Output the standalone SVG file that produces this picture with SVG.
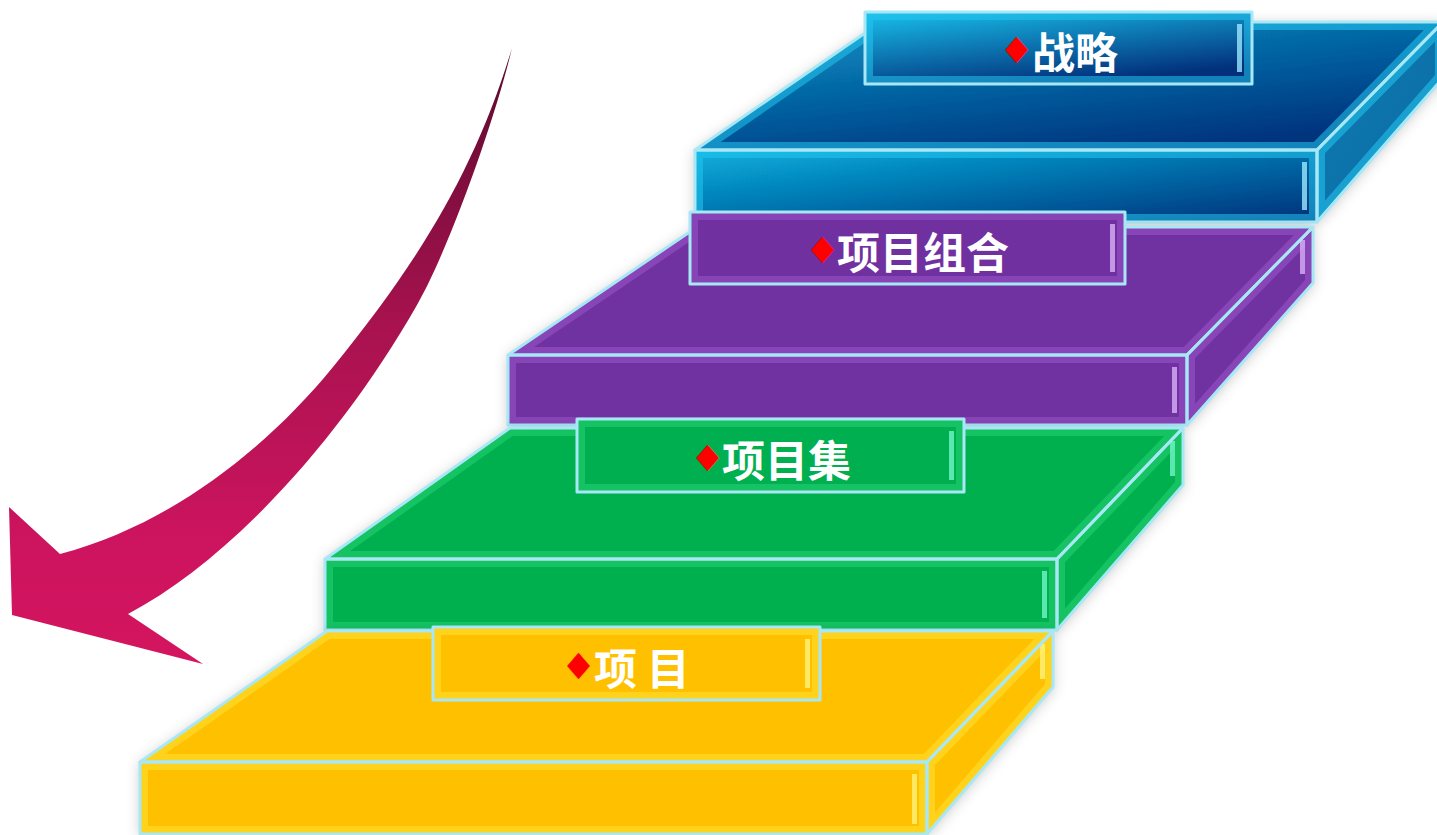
<svg xmlns="http://www.w3.org/2000/svg" xmlns:xlink="http://www.w3.org/1999/xlink" width="1437" height="835" viewBox="0 0 1437 835">
<style>
.edge{fill:none;stroke:#A8E8F6;stroke-width:3;stroke-linejoin:round}
.band{fill:none;stroke-width:16;stroke-opacity:0.55}
.lbl{font-family:"Noto Sans CJK SC","Noto Sans",sans-serif;font-weight:bold;font-size:43px;fill:#FFFFFF}
.dia{font-family:"DejaVu Sans",sans-serif;font-size:30px;fill:#FF0000}
.y{fill:#FFC000}.yb{stroke:#FFE033}.yg{fill:#FFF27A}
.g{fill:#00B050}.gb{stroke:#26D474}.gg{fill:#70F5C8}
.p{fill:#7030A0}.pb{stroke:#9A55CA}.pg{fill:#D8B0F7}
.bb{stroke:#22C6F0}.bg{fill:#9AE8FF}
</style>
<defs>
<linearGradient id="arrowGrad" gradientUnits="userSpaceOnUse" x1="0" y1="48" x2="0" y2="664">
<stop offset="0" stop-color="#5A0A2E"/><stop offset="0.45" stop-color="#A8124F"/><stop offset="0.8" stop-color="#CD145E"/><stop offset="1" stop-color="#D4145F"/>
</linearGradient>
<linearGradient id="blueTop" x1="0" y1="0" x2="0.6" y2="1"><stop offset="0" stop-color="#0A96C8"/><stop offset="1" stop-color="#01347E"/></linearGradient>
<linearGradient id="blueFront" x1="0" y1="0" x2="1" y2="1"><stop offset="0" stop-color="#08B0DE"/><stop offset="1" stop-color="#012F78"/></linearGradient>
<linearGradient id="blueSide" x1="0" y1="0" x2="1" y2="1"><stop offset="0" stop-color="#087BB0"/><stop offset="1" stop-color="#0B6AA5"/></linearGradient>
<linearGradient id="blueLabel" x1="0" y1="0" x2="0.5" y2="1"><stop offset="0" stop-color="#18C2EC"/><stop offset="1" stop-color="#02307B"/></linearGradient>
<filter id="sh" x="-10%" y="-20%" width="120%" height="140%"><feDropShadow dx="0" dy="2" stdDeviation="7" flood-color="#000" flood-opacity="0.22"/></filter>

<polygon id="bT" points="695,150 881,22 1443,22 1317,150"/>
<polygon id="bF" points="695,150 1317,150 1317,222 695,222"/>
<polygon id="bS" points="1317,150 1443,22 1443,78 1317,222"/>
<rect id="bL" x="865" y="12" width="387" height="72"/>
<polygon id="pT" points="508,355 697,227 1313,227 1187,355"/>
<polygon id="pF" points="508,355 1187,355 1187,425 508,425"/>
<polygon id="pS" points="1187,355 1313,227 1313,283 1187,425"/>
<rect id="pL" x="690" y="212" width="435" height="72"/>
<polygon id="gT" points="325,559 510,428 1183,428 1057,559"/>
<polygon id="gF" points="325,559 1057,559 1057,630 325,630"/>
<polygon id="gS" points="1057,559 1183,428 1183,485 1057,630"/>
<rect id="gL" x="577" y="419" width="387" height="73"/>
<polygon id="yT" points="140,762 327,631 1053,631 927,762"/>
<polygon id="yF" points="140,762 927,762 927,834 140,834"/>
<polygon id="yS" points="927,762 1053,631 1053,687 927,834"/>
<rect id="yL" x="433" y="627" width="387" height="73"/>

<clipPath id="c-bT"><use xlink:href="#bT"/></clipPath><clipPath id="c-bF"><use xlink:href="#bF"/></clipPath><clipPath id="c-bS"><use xlink:href="#bS"/></clipPath><clipPath id="c-bL"><use xlink:href="#bL"/></clipPath>
<clipPath id="c-pT"><use xlink:href="#pT"/></clipPath><clipPath id="c-pF"><use xlink:href="#pF"/></clipPath><clipPath id="c-pS"><use xlink:href="#pS"/></clipPath><clipPath id="c-pL"><use xlink:href="#pL"/></clipPath>
<clipPath id="c-gT"><use xlink:href="#gT"/></clipPath><clipPath id="c-gF"><use xlink:href="#gF"/></clipPath><clipPath id="c-gS"><use xlink:href="#gS"/></clipPath><clipPath id="c-gL"><use xlink:href="#gL"/></clipPath>
<clipPath id="c-yT"><use xlink:href="#yT"/></clipPath><clipPath id="c-yF"><use xlink:href="#yF"/></clipPath><clipPath id="c-yS"><use xlink:href="#yS"/></clipPath><clipPath id="c-yL"><use xlink:href="#yL"/></clipPath>
</defs>

<rect width="1437" height="835" fill="#FFFFFF"/>

<g id="arrow">
<path d="M512,48 C475,170 420,260 333,367 C265,450 170,525 60,554 L9,507 L12,615 L203,664 L128,614 C230,560 340,440 417,305 C448,251 495,120 512,48 Z" fill="url(#arrowGrad)"/>
</g>

<g id="step-strategy">
<g filter="url(#sh)">
<use xlink:href="#bT" fill="url(#blueTop)"/>
<use xlink:href="#bF" fill="url(#blueFront)"/>
<use xlink:href="#bS" fill="url(#blueSide)"/>
</g>
<use xlink:href="#bT" class="band bb" clip-path="url(#c-bT)"/>
<use xlink:href="#bF" class="band bb" clip-path="url(#c-bF)"/>
<use xlink:href="#bS" class="band bb" clip-path="url(#c-bS)"/>
<rect x="1302" y="162" width="5" height="48" class="bg" opacity="0.8"/>
<use xlink:href="#bT" class="edge"/><use xlink:href="#bF" class="edge"/><use xlink:href="#bS" class="edge"/>
<g id="label-strategy">
<use xlink:href="#bL" fill="url(#blueLabel)"/>
<use xlink:href="#bL" class="band bb" clip-path="url(#c-bL)"/>
<rect x="1237" y="24" width="5" height="48" class="bg" opacity="0.8"/>
<use xlink:href="#bL" class="edge"/>
<text class="dia" transform="translate(1005,59) scale(1,1.15)">◆</text>
<text class="lbl" x="1032" y="69">战略</text>
</g>
</g>

<g id="step-portfolio">
<g filter="url(#sh)">
<use xlink:href="#pT" class="p"/><use xlink:href="#pF" class="p"/><use xlink:href="#pS" class="p"/>
</g>
<use xlink:href="#pT" class="band pb" clip-path="url(#c-pT)"/>
<use xlink:href="#pF" class="band pb" clip-path="url(#c-pF)"/>
<use xlink:href="#pS" class="band pb" clip-path="url(#c-pS)"/>
<rect x="1172" y="367" width="5" height="46" class="pg" opacity="0.8"/>
<rect x="1300" y="240" width="5" height="34" class="pg" opacity="0.8"/>
<use xlink:href="#pT" class="edge"/><use xlink:href="#pF" class="edge"/><use xlink:href="#pS" class="edge"/>
<g id="label-portfolio">
<use xlink:href="#pL" class="p"/>
<use xlink:href="#pL" class="band pb" clip-path="url(#c-pL)"/>
<rect x="1110" y="224" width="5" height="48" class="pg" opacity="0.8"/>
<use xlink:href="#pL" class="edge"/>
<text class="dia" transform="translate(811,259) scale(1,1.15)">◆</text>
<text class="lbl" x="837" y="269">项目组合</text>
</g>
</g>

<g id="step-program">
<g filter="url(#sh)">
<use xlink:href="#gT" class="g"/><use xlink:href="#gF" class="g"/><use xlink:href="#gS" class="g"/>
</g>
<use xlink:href="#gT" class="band gb" clip-path="url(#c-gT)"/>
<use xlink:href="#gF" class="band gb" clip-path="url(#c-gF)"/>
<use xlink:href="#gS" class="band gb" clip-path="url(#c-gS)"/>
<rect x="1042" y="571" width="5" height="47" class="gg" opacity="0.8"/>
<rect x="1170" y="441" width="5" height="35" class="gg" opacity="0.8"/>
<use xlink:href="#gT" class="edge"/><use xlink:href="#gF" class="edge"/><use xlink:href="#gS" class="edge"/>
<g id="label-program">
<use xlink:href="#gL" class="g"/>
<use xlink:href="#gL" class="band gb" clip-path="url(#c-gL)"/>
<rect x="949" y="431" width="5" height="49" class="gg" opacity="0.8"/>
<use xlink:href="#gL" class="edge"/>
<text class="dia" transform="translate(696,467) scale(1,1.15)">◆</text>
<text class="lbl" x="722" y="477">项目集</text>
</g>
</g>

<g id="step-project">
<g filter="url(#sh)">
<use xlink:href="#yT" class="y"/><use xlink:href="#yF" class="y"/><use xlink:href="#yS" class="y"/>
</g>
<use xlink:href="#yT" class="band yb" clip-path="url(#c-yT)"/>
<use xlink:href="#yF" class="band yb" clip-path="url(#c-yF)"/>
<use xlink:href="#yS" class="band yb" clip-path="url(#c-yS)"/>
<rect x="912" y="774" width="5" height="50" class="yg" opacity="0.8"/>
<rect x="1040" y="644" width="5" height="35" class="yg" opacity="0.8"/>
<use xlink:href="#yT" class="edge"/><use xlink:href="#yF" class="edge"/><use xlink:href="#yS" class="edge"/>
<g id="label-project">
<use xlink:href="#yL" class="y"/>
<use xlink:href="#yL" class="band yb" clip-path="url(#c-yL)"/>
<rect x="805" y="639" width="5" height="49" class="yg" opacity="0.8"/>
<use xlink:href="#yL" class="edge"/>
<text class="dia" transform="translate(567,675) scale(1,1.15)">◆</text>
<text class="lbl" x="594" y="685">项 目</text>
</g>
</g>
</svg>
